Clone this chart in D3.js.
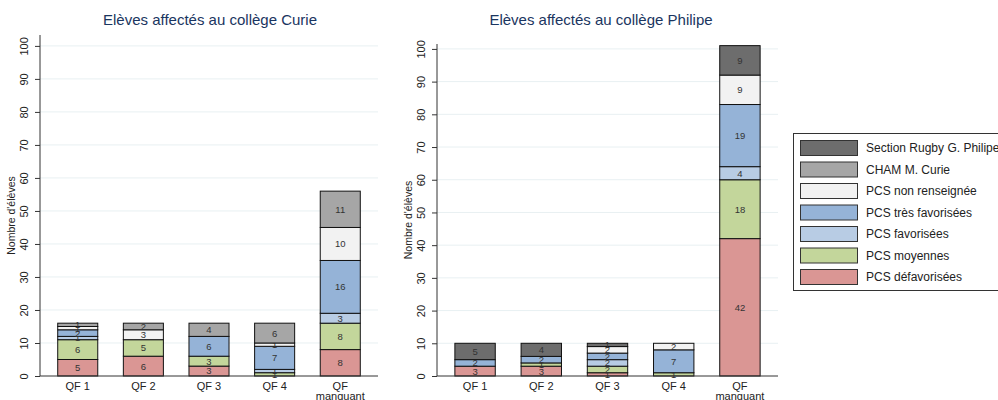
<!DOCTYPE html>
<html>
<head>
<meta charset="utf-8">
<script src="https://cdn.jsdelivr.net/npm/d3@7"></script>
<style>
html,body{margin:0;padding:0;background:#fff;}
svg{display:block;font-family:Arial,"Liberation Sans",sans-serif;}
</style>
</head>
<body>
<svg id="chart" width="998" height="400"></svg>
<script>
const categories = ["QF 1", "QF 2", "QF 3", "QF 4", "QF manquant"];
const seriesNames = ["PCS défavorisées", "PCS moyennes", "PCS favorisées", "PCS très favorisées", "PCS non renseignée", "CHAM M. Curie", "Section Rugby G. Philipe"];
const seriesColors = ["#da9694", "#c3d69b", "#b8cce4", "#95b3d7", "#f2f2f2", "#a6a6a6", "#6d6d6d"];
// values per series, in category order
const curieDefav   = [5, 6, 3, 0, 8];
const curieMoy     = [6, 5, 3, 1, 8];
const curieFav     = [1, 0, 0, 1, 3];
const curieTresFav = [2, 0, 6, 7, 16];
const curieNonRens = [1, 3, 0, 1, 10];
const curieCham    = [1, 2, 4, 6, 11];
const curieRugby   = [0, 0, 0, 0, 0];
const philDefav    = [3, 3, 1, 0, 42];
const philMoy      = [0, 1, 2, 1, 18];
const philFav      = [0, 0, 2, 0, 4];
const philTresFav  = [2, 2, 2, 7, 19];
const philNonRens  = [0, 0, 2, 2, 9];
const philCham     = [0, 0, 0, 0, 0];
const philRugby    = [5, 4, 1, 0, 9];
const yTicks = [0, 10, 20, 30, 40, 50, 60, 70, 80, 90, 100];

const svg = d3.select("#chart");

function panel(cfg) {
  const series = cfg.values;
  const rows = categories.map((c, i) => {
    const r = {cat: c};
    seriesNames.forEach((s, k) => r[s] = series[k][i]);
    return r;
  });
  const stacked = d3.stack().keys(seriesNames)(rows);
  const x = d3.scaleBand().domain(categories).range([cfg.x0, cfg.x1]).paddingInner(0.39).paddingOuter(0.27);
  const y = d3.scaleLinear().domain([0, cfg.yMax]).range([cfg.yBottom, cfg.yTop]);
  const g = svg.append("g");

  // grid
  g.append("g").selectAll("line").data(yTicks.filter(t => t > 0)).join("line")
    .attr("x1", cfg.x0).attr("x2", cfg.x1)
    .attr("y1", d => y(d)).attr("y2", d => y(d))
    .attr("stroke", "#e8f0f2").attr("stroke-width", 1);

  // bars
  const layers = g.append("g").selectAll("g").data(stacked).join("g")
    .attr("fill", (d, i) => seriesColors[i]);
  layers.selectAll("rect").data(d => d.filter(p => p[1] - p[0] > 0)).join("rect")
    .attr("x", d => x(d.data.cat))
    .attr("width", x.bandwidth())
    .attr("y", d => y(d[1]))
    .attr("height", d => y(d[0]) - y(d[1]))
    .attr("stroke", "#111").attr("stroke-width", 1);
  // labels
  layers.selectAll("text").data(d => d.filter(p => p[1] - p[0] > 0)).join("text")
    .attr("x", d => x(d.data.cat) + x.bandwidth() / 2)
    .attr("y", d => (y(d[0]) + y(d[1])) / 2)
    .attr("dy", "0.36em")
    .attr("text-anchor", "middle")
    .attr("font-size", 9.5)
    .attr("fill", "#333")
    .text(d => d[1] - d[0]);

  // y axis
  const ya = g.append("g").attr("transform", `translate(${cfg.x0},0)`)
    .call(d3.axisLeft(y).tickValues(yTicks).tickSize(5).tickSizeOuter(0));
  ya.select(".domain").attr("stroke", "#333");
  ya.selectAll(".tick line").attr("stroke", "#333");
  ya.selectAll(".tick text")
    .attr("font-size", 11).attr("fill", "#222")
    .attr("transform", "rotate(-90)")
    .attr("x", 0).attr("y", -12).attr("dy", 0)
    .attr("text-anchor", "middle");
  ya.select(".domain").attr("d", `M0,${cfg.yBottom}V${cfg.yTop}`);

  // x axis
  g.append("line").attr("x1", cfg.x0).attr("x2", cfg.x1)
    .attr("y1", cfg.yBottom).attr("y2", cfg.yBottom)
    .attr("stroke", "#333");
  const xl = g.append("g").selectAll("text").data(categories).join("text")
    .attr("x", d => x(d) + x.bandwidth() / 2)
    .attr("y", cfg.yBottom + 14)
    .attr("text-anchor", "middle")
    .attr("font-size", 11).attr("fill", "#222");
  xl.each(function(d) {
    const parts = d === "QF manquant" ? ["QF", "manquant"] : [d];
    const t = d3.select(this);
    parts.forEach((p, i) => t.append("tspan").attr("x", x(d) + x.bandwidth() / 2).attr("dy", i === 0 ? 0 : 9.5).text(p));
  });

  // y title
  g.append("text")
    .attr("transform", `translate(${cfg.x0 - 25},${(cfg.yBottom + cfg.yTop) / 2 + 10}) rotate(-90)`)
    .attr("text-anchor", "middle").attr("font-size", 10.5).attr("fill", "#222")
    .text("Nombre d'élèves");

  // title
  g.append("text").attr("x", cfg.titleX).attr("y", 25)
    .attr("text-anchor", "middle").attr("font-size", 15).attr("fill", "#1a3560")
    .text(cfg.title);
}

panel({
  values: [curieDefav, curieMoy, curieFav, curieTresFav, curieNonRens, curieCham, curieRugby],
  x0: 40, x1: 378, yBottom: 376, yTop: 35, yMax: 103.3,
  title: "Elèves affectés au collège Curie", titleX: 210
});
panel({
  values: [philDefav, philMoy, philFav, philTresFav, philNonRens, philCham, philRugby],
  x0: 437, x1: 778, yBottom: 376, yTop: 44, yMax: 101.5,
  title: "Elèves affectés au collège Philipe", titleX: 601
});

// legend
const leg = svg.append("g");
leg.append("rect").attr("x", 793.5).attr("y", 133.5).attr("width", 220).attr("height", 157)
  .attr("fill", "#fff").attr("stroke", "#333");
const legOrder = seriesNames.slice().reverse();
const legColors = seriesColors.slice().reverse();
const li = leg.selectAll("g").data(legOrder).join("g")
  .attr("transform", (d, i) => `translate(0,${140 + i * 21.5})`);
li.append("rect").attr("x", 800.5).attr("y", 0.5).attr("width", 57).attr("height", 15)
  .attr("fill", (d, i) => legColors[i]).attr("stroke", "#333");
li.append("text").attr("x", 866).attr("y", 8).attr("dy", "0.36em")
  .attr("font-size", 12).attr("fill", "#222").text(d => d);
</script>
</body>
</html>
